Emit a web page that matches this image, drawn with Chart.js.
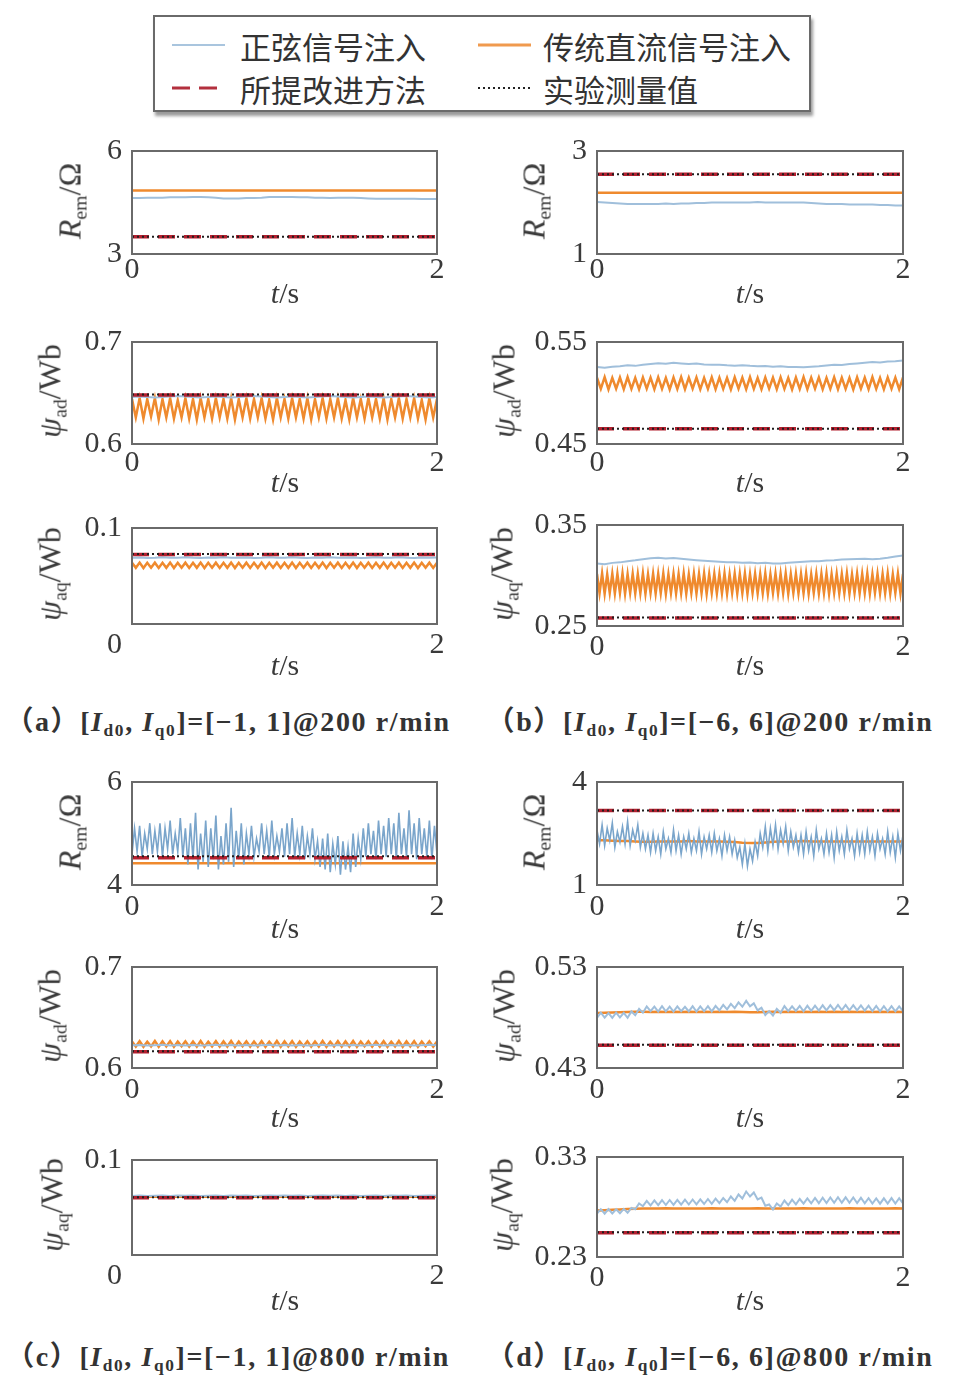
<!DOCTYPE html>
<html><head><meta charset="utf-8">
<script src="https://cdn.jsdelivr.net/npm/chart.js@4.4.1/dist/chart.umd.min.js"></script>
<style>
body{margin:0;background:#fff;width:954px;height:1389px;position:relative;overflow:hidden;font-family:"Liberation Serif",serif;color:#3a3a3a}
canvas{position:absolute}
.yt{position:absolute;font-size:32px;font-family:"Liberation Serif",serif;white-space:nowrap;transform:translate(-50%,-50%) rotate(-90deg);color:#3a3a3a}
.xt{position:absolute;font-size:30px;font-family:"Liberation Serif",serif;white-space:nowrap;transform:translate(-50%,-50%);color:#3a3a3a}
sub{font-size:62%;vertical-align:-0.28em;line-height:0}
.legend{position:absolute;left:153px;top:15px;width:654px;height:93px;border:2px solid #6a6a6a;box-shadow:2px 4px 3px #9a9a9a;background:#fff}
.lt{position:absolute;font-size:31px;font-family:"Noto Sans CJK SC",sans-serif;color:#333;white-space:nowrap;transform:translateY(-50%)}
.ls{position:absolute;width:53px;transform:translateY(-50%)}
.cap{position:absolute;width:480px;text-align:center;font-size:28px;letter-spacing:1.6px;font-weight:bold;font-family:"Liberation Serif","Noto Sans CJK SC",serif;white-space:nowrap;color:#333;transform:translateY(-50%)}
</style></head><body>

<div class="legend"></div>
<div class="ls" style="left:172px;top:45px;height:2px;background:#a9c5de"></div>
<div class="lt" style="left:240px;top:45px">正弦信号注入</div>
<div class="ls" style="left:478px;top:45px;height:3px;background:#f09a4e"></div>
<div class="lt" style="left:543px;top:45px">传统直流信号注入</div>
<div class="ls" style="left:172px;top:88px;height:3px;background:repeating-linear-gradient(90deg,#b3303e 0 18px,transparent 18px 27px)"></div>
<div class="lt" style="left:240px;top:88px">所提改进方法</div>
<div class="ls" style="left:478px;top:88px;height:2px;background:repeating-linear-gradient(90deg,#222 0 2px,transparent 2px 5px)"></div>
<div class="lt" style="left:543px;top:88px">实验测量值</div>

<div class="cap" style="left:-12px;top:719px">（a）[<i>I</i><sub>d0</sub>, <i>I</i><sub>q0</sub>]=[−1, 1]@200 r/min</div>
<div class="cap" style="left:470px;top:719px">（b）[<i>I</i><sub>d0</sub>, <i>I</i><sub>q0</sub>]=[−6, 6]@200 r/min</div>
<div class="cap" style="left:-12px;top:1354px">（c）[<i>I</i><sub>d0</sub>, <i>I</i><sub>q0</sub>]=[−1, 1]@800 r/min</div>
<div class="cap" style="left:470px;top:1354px">（d）[<i>I</i><sub>d0</sub>, <i>I</i><sub>q0</sub>]=[−6, 6]@800 r/min</div>

<script>
// ---------- tick labels ----------
const xTicks = [0, 2];
const a1YTicks = [3, 6], b1YTicks = [1, 3];
const a2YTicks = [0.6, 0.7], b2YTicks = [0.45, 0.55];
const a3YTicks = [0, 0.1], b3YTicks = [0.25, 0.35];
const c1YTicks = [4, 6], d1YTicks = [1, 4];
const c2YTicks = [0.6, 0.7], d2YTicks = [0.43, 0.53];
const c3YTicks = [0, 0.1], d3YTicks = [0.23, 0.33];

// ---------- (a) 200 r/min, [-1,1] ----------
const a1Sine = [4.63,4.63,4.64,4.64,4.64,4.65,4.65,4.65,4.66,4.66,4.65,4.64,4.62,4.62,4.62,4.63,4.63,4.64,4.66,4.66,4.66,4.66,4.65,4.65,4.64,4.64,4.63,4.64,4.64,4.64,4.63,4.62,4.61,4.61,4.61,4.61,4.61,4.61,4.60,4.60,4.60];
const a1Dc = [4.85, 4.85];
const a1Prop = [3.5, 3.5];
const a1Meas = [3.5, 3.5];

const a2Sine = [0.646,0.6465,0.646,0.6455,0.646,0.6465,0.647,0.6465,0.646,0.6455,0.646,0.6465,0.646,0.6455,0.646,0.6465,0.647,0.6465,0.646,0.6455,0.646,0.6465,0.646,0.6455,0.646,0.6465,0.647,0.6465,0.646,0.6455,0.646,0.6465,0.646,0.6455,0.646,0.6465,0.647,0.6465,0.646,0.6455,0.646];
const a2Dc = [0.644,0.626,0.645,0.625,0.644,0.627,0.645,0.624,0.644,0.626,0.645,0.625,0.643,0.626,0.645,0.625,0.644,0.624,0.645,0.626,0.644,0.625,0.645,0.626,0.644,0.625,0.645,0.624,0.644,0.626,0.645,0.625,0.644,0.626,0.645,0.625,0.643,0.624,0.645,0.626,0.644,0.625,0.645,0.626,0.644,0.625,0.645,0.624,0.644,0.626,0.645,0.625,0.644,0.626,0.645,0.625,0.643,0.624,0.645,0.626,0.644,0.625,0.645,0.626,0.644,0.625,0.645,0.624,0.644,0.626,0.645,0.625,0.644,0.626,0.645,0.625,0.643,0.624,0.645,0.626,0.644];
const a2Prop = [0.648, 0.648];
const a2Meas = [0.6485, 0.6485];

const a3Sine = [0.069,0.0693,0.0688,0.069,0.0694,0.0689,0.0691,0.0695,0.069,0.0688,0.0692,0.069,0.0694,0.0689,0.0691,0.0693,0.0688,0.069,0.0694,0.0689,0.0691,0.0695,0.069,0.0688,0.0692,0.069,0.0694,0.0689,0.0691,0.0693,0.0688,0.069,0.0694,0.0689,0.0691,0.0695,0.069,0.0688,0.0692,0.069,0.0693];
const a3Dc = [0.0638,0.0585,0.064,0.0583,0.0637,0.0586,0.0639,0.0584,0.0638,0.0585,0.064,0.0583,0.0637,0.0586,0.0639,0.0584,0.0638,0.0585,0.064,0.0583,0.0637,0.0586,0.0639,0.0584,0.0638,0.0585,0.064,0.0583,0.0637,0.0586,0.0639,0.0584,0.0638,0.0585,0.064,0.0583,0.0637,0.0586,0.0639,0.0584,0.0638,0.0585,0.064,0.0583,0.0637,0.0586,0.0639,0.0584,0.0638,0.0585,0.064,0.0583,0.0637,0.0586,0.0639,0.0584,0.0638,0.0585,0.064,0.0583,0.0637,0.0586,0.0639,0.0584,0.0638,0.0585,0.064,0.0583,0.0637,0.0586,0.0639,0.0584,0.0638,0.0585,0.064,0.0583,0.0637,0.0586,0.0639,0.0584,0.0638];
const a3Prop = [0.0724, 0.0724];
const a3Meas = [0.0728, 0.0728];

// ---------- (b) 200 r/min, [-6,6] ----------
const b1Sine = [2.01,2.0,1.99,1.98,1.97,1.97,1.97,1.97,1.97,1.98,1.97,1.98,1.98,1.99,1.99,2.0,2.0,2.0,2.0,2.0,2.0,2.01,2.0,2.0,2.0,2.0,2.0,2.0,1.99,1.98,1.97,1.97,1.97,1.96,1.96,1.96,1.96,1.95,1.95,1.94,1.94];
const b1Dc = [2.19, 2.19];
const b1Prop = [2.55, 2.55];
const b1Meas = [2.55, 2.55];

const b2Sine = [0.5255,0.5248,0.5258,0.5262,0.5271,0.5266,0.5278,0.5285,0.5292,0.5288,0.5297,0.529,0.5284,0.5288,0.528,0.5276,0.5278,0.5272,0.5268,0.5272,0.5266,0.5262,0.5265,0.5258,0.5262,0.5256,0.5255,0.5252,0.5258,0.5262,0.527,0.5278,0.5275,0.5284,0.529,0.5296,0.5303,0.53,0.5308,0.5312,0.5319];
const b2Dc = [0.515,0.504,0.5155,0.5035,0.5148,0.5042,0.5152,0.5038,0.5156,0.504,0.5149,0.5036,0.5153,0.5043,0.5151,0.5037,0.5155,0.5041,0.5148,0.5035,0.5152,0.504,0.5156,0.5038,0.515,0.5042,0.5153,0.5036,0.5149,0.5041,0.5155,0.5037,0.5151,0.504,0.5148,0.5035,0.5154,0.5042,0.515,0.5038,0.5156,0.504,0.5149,0.5036,0.5153,0.5043,0.5151,0.5037,0.5155,0.5041,0.5148,0.5035,0.5152,0.504,0.5156,0.5038,0.515,0.5042,0.5153,0.5036,0.5149,0.5041,0.5155,0.5037,0.5151,0.504,0.5148,0.5035,0.5154,0.5042,0.515,0.5038,0.5156,0.504,0.5149,0.5036,0.5153,0.5043,0.5151,0.5037,0.5152];
const b2Prop = [0.465, 0.465];
const b2Meas = [0.465, 0.465];

const b3Sine = [0.3118,0.3112,0.3125,0.313,0.3141,0.315,0.3162,0.317,0.3175,0.3168,0.3173,0.3165,0.3158,0.3151,0.3145,0.314,0.3136,0.3132,0.313,0.3126,0.3128,0.3122,0.3125,0.3118,0.312,0.3126,0.3132,0.3136,0.314,0.3141,0.3148,0.3152,0.3158,0.316,0.3163,0.3165,0.3162,0.3167,0.3175,0.3188,0.3199];
const b3Dc = [0.3015,0.2825,0.302,0.282,0.3012,0.2828,0.3018,0.2822,0.3016,0.2826,0.3021,0.2819,0.3013,0.2827,0.3017,0.2823,0.3015,0.2825,0.302,0.282,0.3012,0.2828,0.3018,0.2822,0.3016,0.2826,0.3021,0.2819,0.3013,0.2827,0.3017,0.2823,0.3015,0.2825,0.302,0.282,0.3012,0.2828,0.3018,0.2822,0.3016,0.2826,0.3021,0.2819,0.3013,0.2827,0.3017,0.2823,0.3015,0.2825,0.302,0.282,0.3012,0.2828,0.3018,0.2822,0.3016,0.2826,0.3021,0.2819,0.3013,0.2827,0.3017,0.2823,0.3015,0.2825,0.302,0.282,0.3012,0.2828,0.3018,0.2822,0.3016,0.2826,0.3021,0.2819,0.3013,0.2827,0.3017,0.2823,0.3015,0.2825,0.302,0.282,0.3012,0.2828,0.3018,0.2822,0.3016,0.2826,0.3021,0.2819,0.3013,0.2827,0.3017,0.2823,0.3015,0.2825,0.302,0.282,0.3012,0.2828,0.3018,0.2822,0.3016,0.2826,0.3021,0.2819,0.3013,0.2827,0.3017,0.2823,0.3015,0.2825,0.302,0.282,0.3012,0.2828,0.3018,0.2822,0.3016];
const b3Prop = [0.258, 0.258];
const b3Meas = [0.2583, 0.2583];

// ---------- (c) 800 r/min, [-1,1] ----------
const c1Sine = [4.6,5.1,4.65,5.15,4.55,5.0,4.7,5.2,4.6,5.05,4.65,5.2,4.55,5.1,4.7,5.25,4.6,5.0,4.65,5.3,4.55,
5.1,4.4,5.2,4.5,5.4,4.3,5.0,4.45,5.25,4.35,5.1,4.5,5.35,4.3,4.95,4.4,5.2,4.45,5.5,4.35,5.05,4.5,5.2,4.4,
5.0,4.6,5.15,4.55,4.9,4.65,5.2,4.6,5.05,4.55,5.25,4.6,4.95,4.65,5.1,4.55,5.2,4.6,5.3,4.55,5.0,4.6,5.15,4.5,4.95,4.6,5.1,
4.5,4.85,4.35,4.9,4.3,5.0,4.25,4.8,4.4,4.95,4.2,4.85,4.3,4.75,4.25,5.0,4.35,4.9,
4.5,5.1,4.55,5.2,4.6,5.05,4.5,5.25,4.6,5.15,4.55,5.3,4.6,5.2,4.5,5.4,4.6,5.1,4.55,5.45,4.6,5.2,4.5,5.3,4.6,5.1,4.55,5.25,4.5,5.15,4.6];
const c1Dc = [4.42, 4.42];
const c1Prop = [4.53, 4.53];
const c1Meas = [4.56, 4.56];

const c2Sine = [0.6225,0.6228,0.6222,0.6226,0.6229,0.6223,0.6227,0.6224,0.6228,0.6222,0.6226,0.6229,0.6223,0.6227,0.6224,0.6228,0.6222,0.6226,0.6229,0.6223,0.6227,0.6224,0.6228,0.6222,0.6226,0.6229,0.6223,0.6227,0.6224,0.6228,0.6222,0.6226,0.6229,0.6223,0.6227,0.6224,0.6228,0.6222,0.6226,0.6229,0.6225];
const c2Dc = [0.6262,0.6212,0.6265,0.621,0.626,0.6214,0.6268,0.6211,0.6263,0.6213,0.6266,0.6209,0.6261,0.6215,0.6264,0.6211,0.6262,0.6212,0.6267,0.621,0.626,0.6214,0.6265,0.6211,0.6263,0.6213,0.6268,0.6209,0.6261,0.6215,0.6264,0.6211,0.6262,0.6212,0.6265,0.621,0.626,0.6214,0.6268,0.6211,0.6263,0.6213,0.6266,0.6209,0.6261,0.6215,0.6264,0.6211,0.6262,0.6212,0.6267,0.621,0.626,0.6214,0.6265,0.6211,0.6263,0.6213,0.6268,0.6209,0.6261,0.6215,0.6264,0.6211,0.6262,0.6212,0.6265,0.621,0.626,0.6214,0.6268,0.6211,0.6263,0.6213,0.6266,0.6209,0.6261,0.6215,0.6264,0.6211,0.6262];
const c2Prop = [0.6162, 0.6162];
const c2Meas = [0.6165, 0.6165];

const c3Sine = [0.0622,0.0625,0.0621,0.0624,0.0626,0.0622,0.0625,0.0623,0.0626,0.0621,0.0624,0.0626,0.0622,0.0625,0.0623,0.0627,0.0622,0.0625,0.0626,0.0623,0.0626,0.0624,0.0627,0.0622,0.0625,0.0626,0.0623,0.0625,0.0622,0.0626,0.0621,0.0624,0.0626,0.0622,0.0625,0.0623,0.0626,0.0621,0.0624,0.0625,0.0623];
const c3Dc = [0.0612, 0.0612];
const c3Prop = [0.0603, 0.0603];
const c3Meas = [0.0608, 0.0608];

// ---------- (d) 800 r/min, [-6,6] ----------
const d1Sine = [2.6,2.2,2.75,2.15,2.65,2.3,2.8,2.1,2.55,2.25,2.7,2.2,2.85,2.15,2.6,2.3,2.75,2.1,2.5,
2.05,2.45,1.95,2.5,2.0,2.4,1.9,2.55,2.05,2.35,1.95,2.6,2.0,2.45,1.9,2.4,2.05,2.5,1.95,2.35,2.0,2.55,1.9,2.4,2.05,2.45,1.95,2.5,2.0,2.35,1.85,2.45,2.0,2.4,1.9,2.3,
1.8,2.1,1.6,2.2,1.55,2.05,1.7,2.25,1.85,
2.5,2.1,2.7,2.0,2.65,2.15,2.75,2.05,2.6,2.2,2.7,2.0,2.55,2.1,2.45,
1.95,2.45,1.9,2.55,2.0,2.4,1.85,2.6,2.05,2.35,1.9,2.5,1.95,2.45,1.8,2.55,2.0,2.4,1.9,2.6,2.05,2.35,1.85,2.5,1.95,2.45,1.9,2.55,2.0,2.4,1.85,2.5,2.05,2.35,1.9,2.55,1.95,2.4,1.8,2.5,2.0,2.45];
const d1Dc = [2.3,2.3,2.29,2.28,2.28,2.27,2.26,2.26,2.27,2.27,2.27,2.27,2.28,2.27,2.27,2.27,2.27,2.26,2.25,2.23,2.22,2.22,2.24,2.26,2.27,2.27,2.27,2.28,2.27,2.27,2.27,2.27,2.27,2.27,2.27,2.27,2.27,2.27,2.27,2.27,2.27];
const d1Prop = [3.17, 3.17];
const d1Meas = [3.17, 3.17];

const d2Sine = [0.4797,0.4847,0.4799,0.4844,0.4796,0.4849,0.4800,0.4846,0.4797,0.4860,0.4823,0.4885,0.4847,0.4910,0.4862,0.4908,0.4858,0.4912,0.4861,0.4907,0.4859,0.4910,0.4863,0.4906,0.4860,0.4911,0.4858,0.4909,0.4862,0.4912,0.4860,0.4915,0.4870,0.4925,0.4880,0.4935,0.4893,0.4950,0.4907,0.4965,0.4910,0.4940,0.4870,0.4897,0.4825,0.4863,0.4820,0.4885,0.4847,0.4913,0.4863,0.4911,0.4865,0.4914,0.4862,0.4916,0.4866,0.4918,0.4868,0.4921,0.4870,0.4922,0.4872,0.4924,0.4873,0.4925,0.4872,0.4923,0.4870,0.4920,0.4868,0.4917,0.4864,0.4914,0.4862,0.4912,0.4861,0.4913,0.4862,0.4911,0.4864];
const d2Dc = [0.4845,0.4848,0.485,0.4852,0.4855,0.4858,0.4856,0.4855,0.4857,0.4854,0.4856,0.4855,0.4858,0.4855,0.4856,0.4854,0.4857,0.4855,0.4856,0.4855,0.4853,0.4851,0.4854,0.4856,0.4855,0.4857,0.4854,0.4856,0.4855,0.4857,0.4855,0.4856,0.4854,0.4857,0.4855,0.4856,0.4854,0.4856,0.4855,0.4857,0.4855];
const d2Prop = [0.4526, 0.4526];
const d2Meas = [0.453, 0.453];

const d3Sine = [0.2735,0.2778,0.2733,0.2780,0.2736,0.2777,0.2738,0.2781,0.2742,0.2790,0.2778,0.2835,0.2808,0.2862,0.2815,0.2866,0.2818,0.2868,0.2820,0.2870,0.2822,0.2872,0.2823,0.2873,0.2825,0.2875,0.2827,0.2877,0.2830,0.2880,0.2832,0.2884,0.2838,0.2890,0.2848,0.2905,0.2862,0.2925,0.2885,0.2955,0.2905,0.2945,0.2875,0.2893,0.2812,0.2825,0.2775,0.2835,0.2805,0.2865,0.2818,0.2873,0.2826,0.2880,0.2833,0.2886,0.2836,0.2890,0.2838,0.2893,0.2840,0.2896,0.2842,0.2898,0.2843,0.2897,0.2842,0.2895,0.2840,0.2892,0.2837,0.2889,0.2834,0.2886,0.2833,0.2887,0.2834,0.2889,0.2835,0.2888,0.2836];
const d3Dc = [0.2765,0.2768,0.2772,0.2776,0.278,0.2783,0.2785,0.2786,0.2785,0.2787,0.2785,0.2786,0.2784,0.2786,0.2785,0.2787,0.2785,0.2786,0.2784,0.2786,0.2785,0.2787,0.2785,0.2786,0.2784,0.2786,0.2785,0.2787,0.2785,0.2786,0.2784,0.2786,0.2785,0.2787,0.2785,0.2786,0.2784,0.2786,0.2785,0.2787,0.2785];
const d3Prop = [0.2543, 0.2543];
const d3Meas = [0.2548, 0.2548];

// ---------- layout ----------
const L = [132, 437], R = [597, 903];
const rows = [[147,254],[338,444],[521,626],[778,885],[963,1068],[1153,1257]];
const xTickPad = [-2, 1, 3, 4, 4, 3];
const xTitleY = [293, 482, 665, 928, 1117, 1300];
const TR = '<i>R</i><sub>em</sub>/Ω', TAD = '<i>ψ</i><sub>ad</sub>/Wb', TAQ = '<i>ψ</i><sub>aq</sub>/Wb';

const panels = [
 {col:L,row:0,yt:a1YTicks,title:TR,tx:70,d:[a1Sine,a1Dc,a1Prop,a1Meas]},
 {col:R,row:0,yt:b1YTicks,title:TR,tx:534,d:[b1Sine,b1Dc,b1Prop,b1Meas]},
 {col:L,row:1,yt:a2YTicks,title:TAD,tx:50,d:[a2Sine,a2Dc,a2Prop,a2Meas]},
 {col:R,row:1,yt:b2YTicks,title:TAD,tx:504,d:[b2Sine,b2Dc,b2Prop,b2Meas]},
 {col:L,row:2,yt:a3YTicks,title:TAQ,tx:50,zero:true,d:[a3Sine,a3Dc,a3Prop,a3Meas]},
 {col:R,row:2,yt:b3YTicks,title:TAQ,tx:502,d:[b3Sine,b3Dc,b3Prop,b3Meas]},
 {col:L,row:3,yt:c1YTicks,title:TR,tx:70,noisy:true,d:[c1Sine,c1Dc,c1Prop,c1Meas]},
 {col:R,row:3,yt:d1YTicks,title:TR,tx:534,noisy:true,d:[d1Sine,d1Dc,d1Prop,d1Meas]},
 {col:L,row:4,yt:c2YTicks,title:TAD,tx:50,d:[c2Sine,c2Dc,c2Prop,c2Meas]},
 {col:R,row:4,yt:d2YTicks,title:TAD,tx:504,d:[d2Sine,d2Dc,d2Prop,d2Meas]},
 {col:L,row:5,yt:c3YTicks,title:TAQ,tx:52,zero:true,d:[c3Sine,c3Dc,c3Prop,c3Meas]},
 {col:R,row:5,yt:d3YTicks,title:TAQ,tx:502,d:[d3Sine,d3Dc,d3Prop,d3Meas]}
];

const PL = 100, PR = 24, PT = 24, PB = 50;
const tickFont = {family:'"Liberation Serif", "Times New Roman", serif', size:30};
const frame = {id:'frame', afterDatasetsDraw(c){const a=c.chartArea,ctx=c.ctx;ctx.save();ctx.strokeStyle='#6a6a6a';ctx.lineWidth=2;ctx.strokeRect(a.left,a.top,a.right-a.left,a.bottom-a.top);ctx.restore();}};
const xy = arr => arr.map((v,i)=>({x: xTicks[1]*i/(arr.length-1), y: v}));

panels.forEach(p=>{
  const [bl, br] = p.col, [bt, bb] = rows[p.row];
  const cv = document.createElement('canvas');
  const W = br-bl+PL+PR, H = bb-bt+PT+PB;
  cv.width = W; cv.height = H;
  cv.style.left = (bl-PL)+'px'; cv.style.top = (bt-PT)+'px';
  cv.style.width = W+'px'; cv.style.height = H+'px';
  document.body.appendChild(cv);
  const [sine, dc, prop, meas] = p.d;
  new Chart(cv, {
    type:'line',
    data:{datasets:[
      {label:'实验测量值', data:xy(meas), borderColor:'#1e1e1e', borderWidth:2, borderDash:[2,3], pointRadius:0},
      {label:'所提改进方法', data:xy(prop), borderColor:'#b3202f', borderWidth:3.5, borderDash:[17,9], pointRadius:0},
      {label:'正弦信号注入', data:xy(sine), borderColor: p.noisy ? '#7aa5cb' : '#a0bfdb', borderWidth: p.noisy ? 1.6 : 2, pointRadius:0},
      {label:'传统直流信号注入', data:xy(dc), borderColor:'#ef8a2e', borderWidth:2.5, pointRadius:0}
    ]},
    options:{
      responsive:false, animation:false, devicePixelRatio:1,
      layout:{padding:{top:PT,right:PR,left:0,bottom:0}},
      plugins:{legend:{display:false}, tooltip:{enabled:false}},
      scales:{
        x:{type:'linear', min:xTicks[0], max:xTicks[1], grid:{display:false, drawTicks:false}, border:{display:false},
           afterBuildTicks:s=>{s.ticks = xTicks.map(v=>({value:v}));},
           ticks:{font:tickFont, color:'#3a3a3a', padding:xTickPad[p.row], maxRotation:0, autoSkip:false,
                  callback:v=> (p.zero && v===0) ? '' : String(v)},
           afterFit:s=>{s.height = PB;}},
        y:{type:'linear', min:p.yt[0], max:p.yt[1], grid:{display:false, drawTicks:false}, border:{display:false},
           afterBuildTicks:s=>{s.ticks = p.yt.map(v=>({value:v}));},
           ticks:{font: p.zero ? {...tickFont, lineHeight:1.4} : tickFont, color:'#3a3a3a', padding:10, autoSkip:false,
                  callback:v=> (p.zero && v===p.yt[0]) ? ['', String(v)] : String(v)},
           afterFit:s=>{s.width = PL;}}
      }
    },
    plugins:[frame]
  });
  const yt = document.createElement('div'); yt.className='yt'; yt.innerHTML=p.title;
  yt.style.left = p.tx+'px'; yt.style.top = ((bt+bb)/2)+'px'; document.body.appendChild(yt);
  const xt = document.createElement('div'); xt.className='xt'; xt.innerHTML='<i>t</i>/s';
  xt.style.left = (bl+153)+'px'; xt.style.top = xTitleY[p.row]+'px'; document.body.appendChild(xt);
});
</script>
</body></html>
